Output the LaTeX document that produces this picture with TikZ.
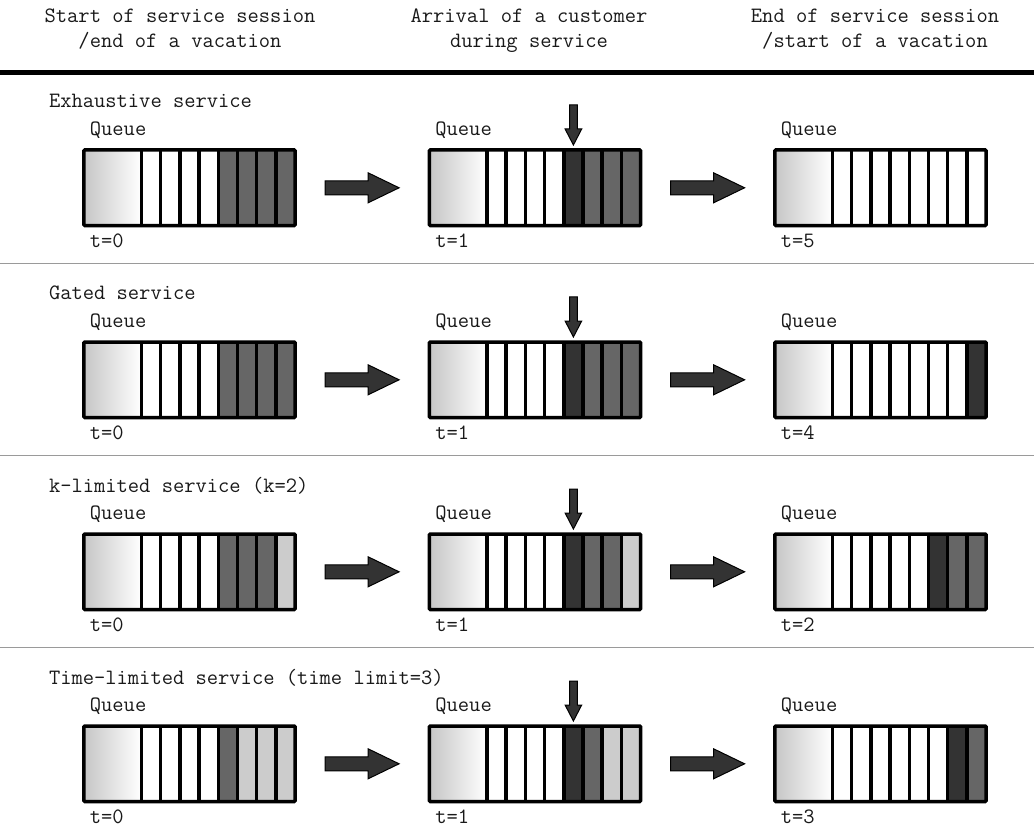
\documentclass[tikz,border=0pt]{standalone}
\usepackage{fontspec}
\definecolor{qW}{HTML}{FFFFFF}
\definecolor{qM}{HTML}{666666}
\definecolor{qD}{HTML}{333333}
\definecolor{qL}{HTML}{CCCCCC}
\definecolor{qG}{HTML}{C6C6C6}
\definecolor{arrowfill}{HTML}{333333}
\definecolor{sepgray}{HTML}{9A9A9A}
\tikzset{
  txt/.style={inner sep=0pt, outer sep=0pt, font=\ttfamily\fontsize{21.9pt}{26pt}\selectfont, text=black!90},
  qframe/.style={draw=black, line width=3.5pt, minimum width=211.2pt, minimum height=75.6pt, inner sep=0pt, outer sep=0pt, rounded corners=1pt},
  qline/.style={draw=black, line width=3.5pt},
  blockarrow/.style={draw=black, line width=1pt, fill=arrowfill, line join=miter},
  seprule/.style={draw=sepgray, line width=0.9pt},
}
% name, x, y (top-left, line centre), colour list of 8 slots
\newcommand\qbox[4]{%
  \begin{scope}[shift={(#2,#3)}]
    \shade[left color=qG, right color=white] (0,0) rectangle (57.6,75.6);
    \foreach \c [count=\i from 0] in {#4} {
      \fill[\c] ({57.6+19.2*\i},0) rectangle ++(19.2,75.6);
    }
    \foreach \i in {0,...,7} \draw[qline] ({57.6+19.2*\i},0) -- ++(0,75.6);
    \node[qframe, anchor=north west] (#1) at (0,0) {};
  \end{scope}}
\newcommand\rarrow[2]{% from box #1 to box #2
  \draw[blockarrow] ([xshift=30pt]#1.east) ++(0,7) -- ++(43,0) -- ++(0,8) -- ++(31,-15) -- ++(-31,-15) -- ++(0,8) -- ++(-43,0) -- cycle;}
\newcommand\darrow[1]{% arrival arrow onto slot 5 of box #1
  \draw[blockarrow] ([xshift=144pt,yshift=5pt]#1.north west) -- ++(-8.3,-16) -- ++(4.4,0) -- ++(0,-24) -- ++(7.8,0) -- ++(0,24) -- ++(4.4,0) -- cycle;}
\begin{document}
\begin{tikzpicture}[x=1pt, y=-1pt]
\useasboundingbox (0,0) rectangle (1034,829);
\fill[white] (0,0) rectangle (1034,829);

% header
\node[txt, anchor=base] (h1a) at (180,23) {Start of service session};
\node[txt, anchor=base] (h1b) at (180,48) {/end of a vacation};
\node[txt, anchor=base] (h2a) at (529,23) {Arrival of a customer};
\node[txt, anchor=base] (h2b) at (529,48) {during service};
\node[txt, anchor=base] (h3a) at (875,23) {End of service session};
\node[txt, anchor=base] (h3b) at (875,48) {/start of a vacation};
\draw[line width=4.5pt] (0,72.5) -- (1034,72.5);

% separators
\foreach \r in {0,1,2} \draw[seprule] (0,{263+192*\r}) -- (1034,{263+192*\r});

% row titles
\node[txt, anchor=base west] (t0) at (49,108) {Exhaustive service};
\node[txt, anchor=base west] (t1) at (49,300) {Gated service};
\node[txt, anchor=base west] (t2) at (49,492) {k-limited service (k=2)};
\node[txt, anchor=base west] (t3) at (49,684) {Time-limited service (time limit=3)};

% boxes
\qbox{b00}{83.9}{150}{qW,qW,qW,qW,qM,qM,qM,qM}
\qbox{b01}{429.4}{150}{qW,qW,qW,qW,qD,qM,qM,qM}
\qbox{b02}{774.9}{150}{qW,qW,qW,qW,qW,qW,qW,qW}

\qbox{b10}{83.9}{342}{qW,qW,qW,qW,qM,qM,qM,qM}
\qbox{b11}{429.4}{342}{qW,qW,qW,qW,qD,qM,qM,qM}
\qbox{b12}{774.9}{342}{qW,qW,qW,qW,qW,qW,qW,qD}

\qbox{b20}{83.9}{534}{qW,qW,qW,qW,qM,qM,qM,qL}
\qbox{b21}{429.4}{534}{qW,qW,qW,qW,qD,qM,qM,qL}
\qbox{b22}{774.9}{534}{qW,qW,qW,qW,qW,qD,qM,qM}

\qbox{b30}{83.9}{726}{qW,qW,qW,qW,qM,qL,qL,qL}
\qbox{b31}{429.4}{726}{qW,qW,qW,qW,qD,qM,qL,qL}
\qbox{b32}{774.9}{726}{qW,qW,qW,qW,qW,qW,qD,qM}

% labels, arrows
\foreach \r/\ta/\tb/\tc in {0/0/1/5, 1/0/1/4, 2/0/1/2, 3/0/1/3} {
  \node[txt, anchor=base west] (q\r0) at ([xshift=6pt,yshift=14.5pt]b\r0.north west) {Queue};
  \node[txt, anchor=base west] (q\r1) at ([xshift=6pt,yshift=14.5pt]b\r1.north west) {Queue};
  \node[txt, anchor=base west] (q\r2) at ([xshift=6pt,yshift=14.5pt]b\r2.north west) {Queue};
  \node[txt, anchor=base west] (l\r0) at ([xshift=6pt,yshift=-21.5pt]b\r0.south west) {t=\ta};
  \node[txt, anchor=base west] (l\r1) at ([xshift=6pt,yshift=-21.5pt]b\r1.south west) {t=\tb};
  \node[txt, anchor=base west] (l\r2) at ([xshift=6pt,yshift=-21.5pt]b\r2.south west) {t=\tc};
  \rarrow{b\r0}{b\r1}
  \rarrow{b\r1}{b\r2}
  \darrow{b\r1}
}
\end{tikzpicture}
\end{document}
